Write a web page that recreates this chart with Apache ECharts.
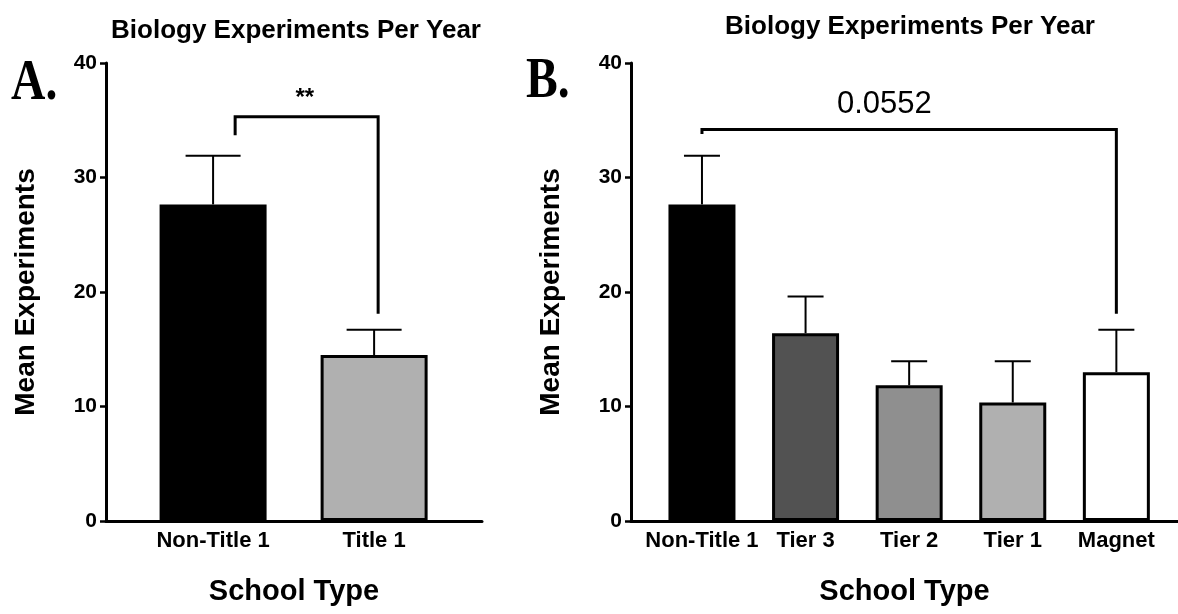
<!DOCTYPE html>
<html><head><meta charset="utf-8">
<script src="https://cdn.jsdelivr.net/npm/echarts@6/dist/echarts.min.js"></script>
<style>html,body{margin:0;padding:0;background:#fff}#c{width:1178px;height:614px}</style>
</head><body><div id="c"></div>
<script>
// ---- data ----
const catsA = ['Non-Title 1', 'Title 1'];
const meanA = [27.65, 14.5];
const semA = [4.25, 2.2];
const catsB = ['Non-Title 1', 'Tier 3', 'Tier 2', 'Tier 1', 'Magnet'];
const meanB = [27.65, 16.4, 11.85, 10.35, 13.0];
const semB = [4.25, 3.2, 2.1, 3.6, 3.7];
const yTicks = [0, 10, 20, 30, 40];
// significance brackets: [xLeft, xRight, yLeftFoot, yTop, yRightFoot]
const bracketA = [0.137, 1.025, 33.7, 35.3, 18.1];
const bracketB = [0.0, 4.0, 33.8, 34.2, 18.1];
const sigLabelA = '**';
const sigLabelB = '0.0552';
const sigPosA = [0.57, 36.9];
const sigPosB = [1.76, 36.4];
const titleText = 'Biology Experiments Per Year';
const yName = 'Mean Experiments';
const xName = 'School Type';

// ---- styles ----
const colorsA = ['#000000', '#b0b0b0'];
const colorsB = ['#000000', '#525252', '#8f8f8f', '#b0b0b0', '#ffffff'];
const FF = '"Liberation Sans", Arial, Helvetica, sans-serif';

const chart = echarts.init(document.getElementById('c'), null, {renderer: 'canvas'});

function errRender(capPx) {
  return function (params, api) {
    const x = api.value(0), m = api.value(1), s = api.value(2);
    const p0 = api.coord([x, m]);
    const p1 = api.coord([x, m + s]);
    return {type: 'group', children: [
      {type: 'line', shape: {x1: p0[0], y1: p0[1], x2: p1[0], y2: p1[1]}, style: {stroke: '#000', lineWidth: 2}},
      {type: 'line', shape: {x1: p1[0] - capPx / 2, y1: p1[1], x2: p1[0] + capPx / 2, y2: p1[1]}, style: {stroke: '#000', lineWidth: 2}}
    ]};
  };
}
function bracketRender(params, api) {
  const x1 = api.value(0), x2 = api.value(1), yl = api.value(2), yt = api.value(3), yr = api.value(4);
  const pts = [api.coord([x1, yl]), api.coord([x1, yt]), api.coord([x2, yt]), api.coord([x2, yr])];
  return {type: 'polyline', shape: {points: pts}, style: {stroke: '#000', lineWidth: 3, fill: null}};
}
function textRender(txt, font) {
  return function (params, api) {
    const p = api.coord([api.value(0), api.value(1)]);
    return {type: 'text', x: p[0], y: p[1],
      style: {text: txt, font: font, fill: '#000', align: 'center', verticalAlign: 'middle'}};
  };
}

function yAxisCfg(gi) {
  return {
    gridIndex: gi, type: 'value', min: 0, max: 40, interval: 10,
    name: yName, nameLocation: 'middle', nameRotate: 90, nameGap: 66,
    nameTextStyle: {fontFamily: FF, fontWeight: 'bold', fontSize: 28, color: '#000'},
    axisLine: {show: true, onZero: false, lineStyle: {color: '#000', width: 3}},
    axisTick: {show: true, length: 6, lineStyle: {color: '#000', width: 2.5}},
    axisLabel: {fontFamily: FF, fontWeight: 'bold', fontSize: 21, color: '#000', margin: 9},
    splitLine: {show: false}
  };
}
function xAxisCfg(gi, min, max, cats) {
  return {
    gridIndex: gi, type: 'value', min: min, max: max,
    name: xName, nameLocation: 'middle', nameGap: 56,
    nameTextStyle: {fontFamily: FF, fontWeight: 'bold', fontSize: 29, color: '#000'},
    axisLine: {show: true, onZero: false, lineStyle: {color: '#000', width: 3}},
    axisTick: {show: false},
    axisLabel: {
      customValues: cats.map((c, i) => i),
      formatter: v => cats[Math.round(v)] || '',
      fontFamily: FF, fontWeight: 'bold', fontSize: 22, color: '#000', margin: 9
    },
    splitLine: {show: false}
  };
}

const option = {
  animation: false,
  backgroundColor: '#fff',
  title: [
    {text: titleText, left: 291, top: 13, textAlign: 'center',
     textStyle: {fontFamily: FF, fontWeight: 'bold', fontSize: 26, color: '#000'}},
    {text: titleText, left: 905, top: 9, textAlign: 'center',
     textStyle: {fontFamily: FF, fontWeight: 'bold', fontSize: 26, color: '#000'}}
  ],
  graphic: [
    {type: 'text', left: 11, top: 57, scaleX: 0.85,
     style: {text: 'A.', font: 'bold 56px "Liberation Serif", "DejaVu Serif", serif', fill: '#000'}},
    {type: 'text', left: 526, top: 55, scaleX: 0.85,
     style: {text: 'B.', font: 'bold 56px "Liberation Serif", "DejaVu Serif", serif', fill: '#000'}}
  ],
  grid: [
    {left: 106, top: 63, width: 376, height: 458},
    {left: 631, top: 63, width: 547, height: 458}
  ],
  xAxis: [
    xAxisCfg(0, -0.665, 1.67, catsA),
    xAxisCfg(1, -0.685, 4.595, catsB)
  ],
  yAxis: [yAxisCfg(0), yAxisCfg(1)],
  series: [
    {type: 'bar', xAxisIndex: 0, yAxisIndex: 0, barWidth: 107,
     data: meanA.map((v, i) => ({value: [i, v], itemStyle: {color: colorsA[i], borderColor: '#000', borderWidth: 3}}))},
    {type: 'custom', xAxisIndex: 0, yAxisIndex: 0, renderItem: errRender(55), z: 1,
     data: meanA.map((v, i) => [i, v, semA[i]])},
    {type: 'custom', xAxisIndex: 0, yAxisIndex: 0, renderItem: bracketRender,
     data: [bracketA]},
    {type: 'custom', xAxisIndex: 0, yAxisIndex: 0,
     renderItem: textRender(sigLabelA, 'bold 24px ' + FF),
     data: [sigPosA]},

    {type: 'bar', xAxisIndex: 1, yAxisIndex: 1, barWidth: 67,
     data: meanB.map((v, i) => ({value: [i, v], itemStyle: {color: colorsB[i], borderColor: '#000', borderWidth: 3}}))},
    {type: 'custom', xAxisIndex: 1, yAxisIndex: 1, renderItem: errRender(36), z: 1,
     data: meanB.map((v, i) => [i, v, semB[i]])},
    {type: 'custom', xAxisIndex: 1, yAxisIndex: 1, renderItem: bracketRender,
     data: [bracketB]},
    {type: 'custom', xAxisIndex: 1, yAxisIndex: 1,
     renderItem: textRender(sigLabelB, '31px ' + FF),
     data: [sigPosB]}
  ]
};
chart.setOption(option);
</script>
</body></html>
